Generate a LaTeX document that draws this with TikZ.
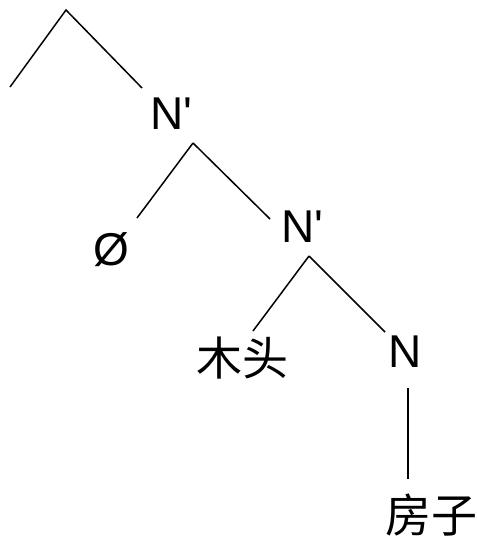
\documentclass[tikz,border=0pt]{standalone}
\usepackage{fontspec}
\setmainfont{Liberation Sans}[Ligatures=TeXOff]
\newfontfamily\cjk{Noto Sans CJK SC}
\begin{document}
\begin{tikzpicture}[x=1pt, y=-1pt, branch/.style={line width=1.5pt}]

\useasboundingbox (0,0) rectangle (477,538);

\begin{scope}[every node/.style={inner sep=0pt, font=\fontsize{46}{46}\selectfont}]
    \path (171,114) node (nbar) {N'};
    \path (nbar) +(-60,136) node (zero) {Ø};
    \path (nbar) +(131,113) node (nbarlow) {N'};
    \path (nbarlow) +(-60,131) node[font=\cjk\fontsize{46}{46}\selectfont] (wood) {木头};
    \path (nbarlow) +(103,125) node (noun) {N};
    \path (noun) +(26,163) node[font=\cjk\fontsize{46}{46}\selectfont] (house) {房子};
\end{scope}

\coordinate (leftend) at (10,87);
\coordinate (apex) at (66,10);


\draw[branch] (leftend) -- (apex) -- ([shift={(-29,-26)}]nbar.center);
\draw[branch] ([shift={(22,29)}]nbar.center) -- ([shift={(26,-32)}]zero.center);
\draw[branch] ([shift={(22,29)}]nbar.center) -- ([shift={(-32,-8)}]nbarlow.center);
\draw[branch] ([shift={(7,29)}]nbarlow.center) -- ([shift={(11,-27)}]wood.center);
\draw[branch] ([shift={(7,29)}]nbarlow.center) -- ([shift={(-20,-20)}]noun.center);
\draw[branch] ([shift={(3,36)}]noun.center) -- ([shift={(-23,-36)}]house.center);

\end{tikzpicture}
\end{document}
